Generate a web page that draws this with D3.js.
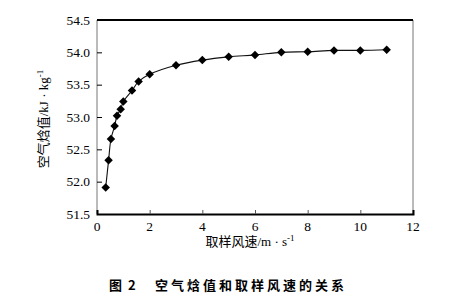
<!DOCTYPE html>
<html>
<head>
<meta charset="utf-8">
<script src="https://cdn.jsdelivr.net/npm/d3@7"></script>
<style>
  body { margin: 0; background: #fff; }
  svg { display: block; }
  .tick-label { font-family: "Liberation Serif", "Times New Roman", "DejaVu Serif", serif; font-size: 13.5px; fill: #000; }
  .axis-title { font-family: "Liberation Serif", "Times New Roman", "Noto Sans CJK SC", serif; font-size: 13px; fill: #000; }
  .caption { font-family: "Noto Sans CJK SC", sans-serif; font-size: 13px; font-weight: bold; fill: #000; }
</style>
</head>
<body>
<svg id="chart" class="chart"></svg>
<script>
const windSpeed = [0.33, 0.44, 0.53, 0.67, 0.76, 0.9, 1.0, 1.33, 1.58, 2, 3, 4, 5, 6, 7, 8, 9, 10, 11];
const enthalpy = [51.91, 52.33, 52.66, 52.86, 53.02, 53.12, 53.24, 53.41, 53.55, 53.66,
  53.80, 53.88, 53.93, 53.96, 54.0, 54.01, 54.03, 54.03, 54.04];
const xTicks = [0, 2, 4, 6, 8, 10, 12];
const yTicks = [51.5, 52.0, 52.5, 53.0, 53.5, 54.0, 54.5];

let widthSvg = 467, heightSvg = 302;
let margin = {top: 20, left: 97};
let widthChart = 413 - 97;
let heightChart = 214 - 20;

let data = windSpeed.map((v, i) => ({x: v, y: enthalpy[i]}));

let svg = d3.select(".chart").attr("width", widthSvg).attr("height", heightSvg);
let chart = svg.append("g")
  .attr("transform", "translate(" + margin.left + "," + margin.top + ")");

let x = d3.scaleLinear().domain([0, 12]).range([0, widthChart]);
let y = d3.scaleLinear().domain([51.5, 54.5]).range([heightChart, 0]);

/* frame: thin grey sides, thick black top and bottom */
chart.append("line").attr("x1", 0).attr("x2", 0).attr("y1", 0).attr("y2", heightChart)
  .attr("stroke", "#777").attr("stroke-width", 1);
chart.append("line").attr("x1", widthChart).attr("x2", widthChart).attr("y1", 0).attr("y2", heightChart)
  .attr("stroke", "#777").attr("stroke-width", 1);
chart.append("line").attr("x1", 0).attr("x2", widthChart).attr("y1", 0).attr("y2", 0)
  .attr("stroke", "#000").attr("stroke-width", 2);

/* axes, ticks point inside */
let xAxis = d3.axisTop(x).tickValues(xTicks).tickSize(4).tickFormat("");
let yAxis = d3.axisRight(y).tickValues(yTicks).tickSize(5).tickFormat("");

let gx = chart.append("g").attr("transform", "translate(0," + heightChart + ")").call(xAxis);
gx.select(".domain").attr("stroke", "#000").attr("stroke-width", 2);
gx.selectAll(".tick line").attr("stroke", "#555");
gx.selectAll(".tick").filter(d => d === 0 || d === 12).select("line").remove();

let gy = chart.append("g").call(yAxis);
gy.select(".domain").remove();
gy.selectAll(".tick line").attr("stroke", "#000");
gy.selectAll(".tick").filter(d => d === 51.5 || d === 54.5).select("line").remove();

/* tick labels */
chart.selectAll(".xlab").data(xTicks).enter().append("text")
  .attr("class", "tick-label")
  .attr("x", d => x(d)).attr("y", heightChart + 17)
  .attr("text-anchor", "middle")
  .text(d => d);

chart.selectAll(".ylab").data(yTicks).enter().append("text")
  .attr("class", "tick-label")
  .attr("x", -7).attr("y", d => y(d) + 4.5)
  .attr("text-anchor", "end")
  .text(d3.format(".1f"));

/* curve + markers */
let line = d3.line().x(d => x(d.x)).y(d => y(d.y)).curve(d3.curveCatmullRom.alpha(0.5));
chart.append("path").datum(data)
  .attr("d", line)
  .attr("fill", "none")
  .attr("stroke", "#111")
  .attr("stroke-width", 1.1);

let diamond = d3.symbol().type(d3.symbolSquare).size(36);
chart.selectAll(".pt").data(data).enter().append("path")
  .attr("d", diamond)
  .attr("transform", d => "translate(" + x(d.x) + "," + y(d.y) + ") rotate(45)")
  .attr("fill", "#000");

/* axis titles */
let xt = chart.append("text").attr("class", "axis-title")
  .attr("x", 250 - margin.left).attr("y", heightChart + 32)
  .attr("text-anchor", "middle");
xt.append("tspan").text("取样风速/m · s");
xt.append("tspan").attr("dy", -5).attr("font-size", "9px").text("-1");

let yt = svg.append("text").attr("class", "axis-title")
  .attr("text-anchor", "middle")
  .attr("transform", "translate(48,119) rotate(-90)");
yt.append("tspan").text("空气焓值/kJ · kg");
yt.append("tspan").attr("dy", -5).attr("font-size", "9px").text("-1");

/* caption */
svg.append("text").attr("class", "caption")
  .attr("x", 109).attr("y", 290)
  .text("图");
svg.append("text").attr("class", "caption")
  .attr("x", 128).attr("y", 290)
  .text("2");
svg.append("text").attr("class", "caption")
  .attr("x", 155).attr("y", 290)
  .attr("letter-spacing", "3px")
  .text("空气焓值和取样风速的关系");
</script>
</body>
</html>
